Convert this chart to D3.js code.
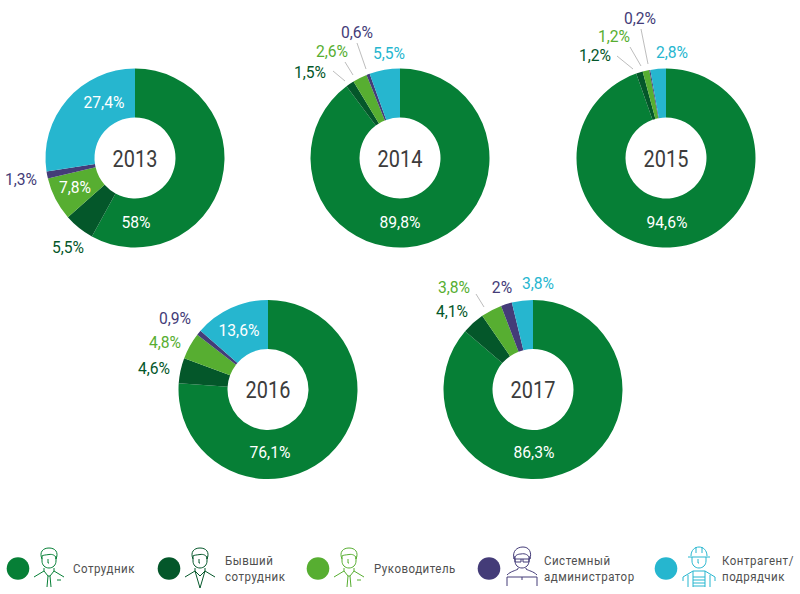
<!DOCTYPE html>
<html><head><meta charset="utf-8">
<script src="https://cdn.jsdelivr.net/npm/d3@7"></script>
<style>html,body{margin:0;background:#fff}svg{display:block}text{font-family:Roboto,"Noto Sans",sans-serif}</style>
</head><body><div id="c"></div>
<script>
// ---- data ----
const years = ["2013","2014","2015","2016","2017"];
const categories = ["Сотрудник","Бывший сотрудник","Руководитель","Системный администратор","Контрагент/ подрядчик"];
const values2013 = [58,5.5,7.8,1.3,27.4];
const values2014 = [89.8,1.5,2.6,0.6,5.5];
const values2015 = [94.6,1.2,1.2,0.2,2.8];
const values2016 = [76.1,4.6,4.8,0.9,13.6];
const values2017 = [86.3,4.1,3.8,2,3.8];
const labels2013 = ["58%","5,5%","7,8%","1,3%","27,4%"];
const labels2014 = ["89,8%","1,5%","2,6%","0,6%","5,5%"];
const labels2015 = ["94,6%","1,2%","1,2%","0,2%","2,8%"];
const labels2016 = ["76,1%","4,6%","4,8%","0,9%","13,6%"];
const labels2017 = ["86,3%","4,1%","3,8%","2%","3,8%"];
const legendLines = [["Сотрудник"],["Бывший","сотрудник"],["Руководитель"],["Системный","администратор"],["Контрагент/","подрядчик"]];

// ---- layout ----
const colors = ["#067f36","#04572a","#57ae31","#443c78","#26b6cf"];
const W=800,H=594,R=89.5,r0=40.5;
const centers=[[135,158],[400,158],[666,158],[268,389.5],[533,389.5]];
const labelPos=[
 [[136,222,1],[68,247,0],[75,187,1],[21,179,0],[104,102,1]],
 [[400,222,1],[310,72,0],[332,51,0],[357,32,0],[389,53,0]],
 [[667,222,1],[595,55,0],[614,36,0],[640,18,0],[672,52,0]],
 [[270,452,1],[154,368,0],[165,342,0],[175,318,0],[239,330,1]],
 [[534,452,1],[452,311,0],[454,287,0],[502,287,0],[538,283,0]]
];
const leaders=[[333,71,345,81],[345,62,353,75],[357,43,366,69],[617,56,633,69],[630,47,641,66],[641,29,648,64],[476,294,484,307]];
const allValues=[values2013,values2014,values2015,values2016,values2017];
const allLabels=[labels2013,labels2014,labels2015,labels2016,labels2017];

const svg=d3.select("#c").append("svg").attr("width",W).attr("height",H);
const pie=d3.pie().sort(null).value(d=>d);
const arc=d3.arc().innerRadius(r0).outerRadius(R);
const color=d3.scaleOrdinal().domain(d3.range(5)).range(colors);

years.forEach((y,i)=>{
  const g=svg.append("g").attr("transform",`translate(${centers[i]})`);
  g.selectAll("path").data(pie(allValues[i])).join("path").attr("d",arc).attr("fill",(d,j)=>color(j));
  g.append("text").text(y).attr("text-anchor","middle").attr("transform","translate(0,8.5) scale(.83,1)")
    .attr("font-size",24).attr("fill","#3c3c3c");
  svg.append("g").selectAll("text").data(allLabels[i]).join("text").text(d=>d)
    .attr("text-anchor","middle")
    .attr("transform",(d,j)=>`translate(${labelPos[i][j][0]},${labelPos[i][j][1]+6}) scale(.95,1)`)
    .attr("font-size",16.5)
    .attr("fill",(d,j)=>labelPos[i][j][2]?"#fff":color(j));
});
svg.append("g").selectAll("line").data(leaders).join("line")
  .attr("x1",d=>d[0]).attr("y1",d=>d[1]).attr("x2",d=>d[2]).attr("y2",d=>d[3])
  .attr("stroke","#bdbdbd").attr("stroke-width",1);

// ---- legend ----
const legCx=[18,169,318,489,666], iconCx=[49,200,349,522,699], textX=[73,225,374,544,722];
const head="M-7,-12V-7C-7,-3-4,0 0,0C4,0 7,-3 7,-7V-12";
const hair="M-7,-9C-10,-16-6,-20 0,-20C6,-20 10,-16 7,-9C7,-13 3,-14 0,-13.5C-3,-13-6,-13-7,-12";
const nose="M-1,-9V-5H0";
const body="M-15,9L-5,3V0M15,9L5,3V0";
const tie="M-5,3L-1,8L-2,19M5,3L1,8L2,19M-1,8H1";
const icons=[
 [hair,head,nose,body,tie,"M8,12H12"],
 [hair,head,nose,body,"M-5,3L0,20L5,3M-5,3L0,8L5,3"],
 [hair,head,nose,body,tie,"M8,12H12"],
 ["M-8,-9C-10,-17-5,-21 1,-21C7,-21 10,-16 8,-9C7,-13 3,-15-1,-14C-4,-14-7,-13-8,-9Z",head,"M-8,-9H8M-7,-9V-6H-1V-9M1,-9V-6H7V-9","M-15,7C-11,3-7,3-4,1V0M15,7C11,3 7,3 4,1V0","M-15,18V9H15V18M0,9V12"],
 ["M-8,-12C-8,-24 8,-24 8,-12M-11,-11H11M-3,-21V-15M3,-21V-15","M-7,-11V-7C-7,-3-4,0 0,0C4,0 7,-3 7,-7V-11",nose,"M-16,9L-6,3H6L16,9M-16,9V13M16,9V13M-11,7V19M11,7V19M-6,3V19M6,3V19M-6,9H6M-6,12H6M-6,15H6M-6,18H6"]
];
const leg=svg.append("g").selectAll("g").data(legendLines).join("g");
leg.append("circle").attr("cx",(d,i)=>legCx[i]).attr("cy",568.5).attr("r",11.3).attr("fill",(d,i)=>color(i));
leg.append("g").attr("transform",(d,i)=>`translate(${iconCx[i]},568)`).attr("fill","none")
  .attr("stroke",(d,i)=>color(i)).attr("stroke-width",1)
  .selectAll("path").data((d,i)=>icons[i]).join("path").attr("d",d=>d);
leg.each(function(lines,i){
  const n=lines.length;
  d3.select(this).selectAll("text").data(lines).join("text").text(d=>d)
    .attr("transform",(d,j)=>`translate(${textX[i]},${n==1?572.5:565+j*15.5}) scale(.92,1)`)
    .attr("font-size",12.5).attr("font-weight",400).attr("letter-spacing",.55).attr("fill","#4f4f4f");
});
</script></body></html>
